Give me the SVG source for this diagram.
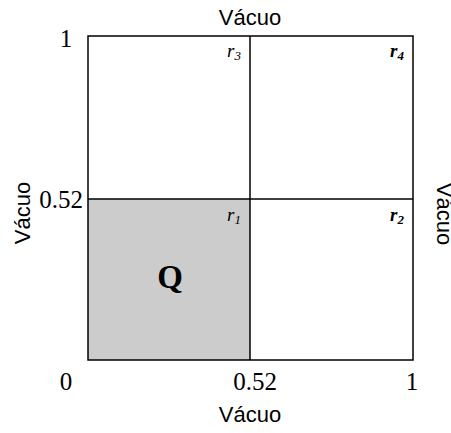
<svg xmlns="http://www.w3.org/2000/svg" width="451" height="433" viewBox="0 0 451 433">
<style>
.lbl{font-family:"Liberation Sans",Arial,sans-serif;font-size:22px;fill:#000}
.num{font-family:"Liberation Serif","Times New Roman",serif;font-size:25px;fill:#000}
.r{font-family:"Liberation Serif","Times New Roman",serif;font-size:19px;font-style:italic;fill:#000}
.rb{font-weight:bold}
.sub{font-size:13px}
.edge{stroke:#000;stroke-width:1.5;fill:none}
</style>
<rect width="451" height="433" fill="#fff"/>
<g id="region-Q">
<rect x="88" y="199" width="162" height="161" fill="#cccccc"/>
<text x="170" y="288" text-anchor="middle" font-family="Liberation Serif,Times New Roman,serif" font-size="33" font-weight="bold">Q</text>
</g>
<g id="connectors">
<rect class="edge" x="88" y="36" width="325" height="324"/>
<line class="edge" x1="250" y1="36" x2="250" y2="360"/>
<line class="edge" x1="88" y1="199" x2="413" y2="199"/>
</g>
<g id="r3"><text class="r" x="241" y="57" text-anchor="end">r<tspan class="sub" dy="3">3</tspan></text></g>
<g id="r4"><text class="r rb" x="404" y="57" text-anchor="end">r<tspan class="sub" dy="3">4</tspan></text></g>
<g id="r1"><text class="r" x="241" y="221" text-anchor="end">r<tspan class="sub" dy="3">1</tspan></text></g>
<g id="r2"><text class="r rb" x="404" y="221" text-anchor="end">r<tspan class="sub" dy="3">2</tspan></text></g>
<g id="axes">
<text class="num" x="66" y="47" text-anchor="middle">1</text>
<text class="num" x="83" y="208" text-anchor="end">0.52</text>
<text class="num" x="66" y="390" text-anchor="middle">0</text>
<text class="num" x="255" y="390" text-anchor="middle">0.52</text>
<text class="num" x="412" y="390" text-anchor="middle">1</text>
</g>
<g id="vacuum-labels">
<text class="lbl" x="250" y="25" text-anchor="middle">Vácuo</text>
<text class="lbl" x="250" y="422" text-anchor="middle">Vácuo</text>
<text class="lbl" text-anchor="middle" transform="translate(30,213) rotate(-90)">Vácuo</text>
<text class="lbl" text-anchor="middle" transform="translate(437,214) rotate(90)">Vácuo</text>
</g>
</svg>
